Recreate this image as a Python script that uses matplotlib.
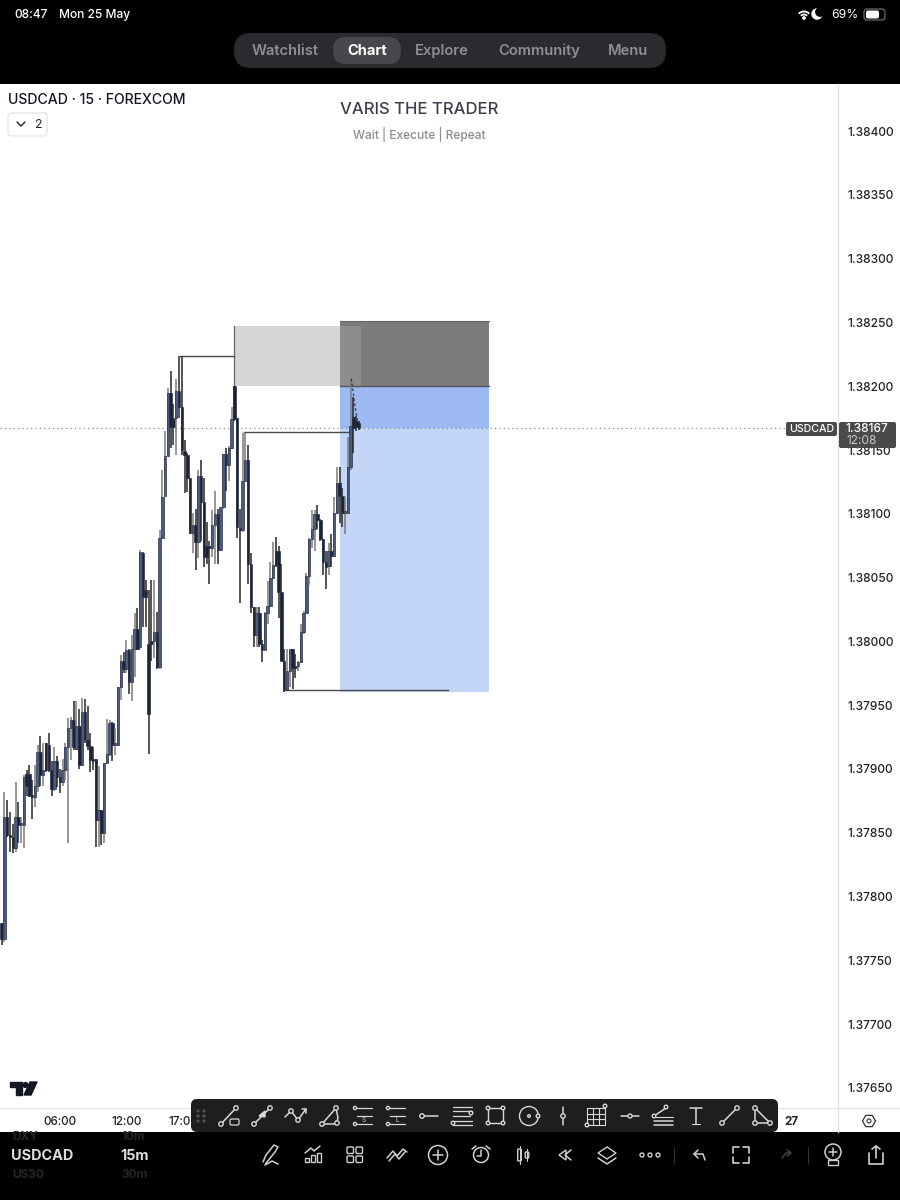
import numpy as np
import matplotlib
matplotlib.use('Agg')
import matplotlib.pyplot as plt
from matplotlib.patches import FancyBboxPatch, Rectangle, Circle, Polygon, Arc

plt.rcParams['font.family'] = ['Inter', 'Roboto', 'DejaVu Sans']

# 15m candles
opens = [1.37779, 1.37767, 1.37862, 1.37848, 1.37847, 1.37838, 1.37862, 1.37856, 1.37856, 1.37896,
         1.37896, 1.37879, 1.37878, 1.37887, 1.37913, 1.37895, 1.37920, 1.37919, 1.37899, 1.37884,
         1.37906, 1.37894, 1.37890, 1.37899, 1.37917, 1.37932, 1.37938, 1.37916, 1.37934, 1.37903,
         1.37945, 1.37923, 1.37918, 1.37908, 1.37908, 1.37860, 1.37868, 1.37850, 1.37905, 1.37912,
         1.37936, 1.37919, 1.37919, 1.37964, 1.37985, 1.37978, 1.37993, 1.37968, 1.37994, 1.38010,
         1.37996, 1.38069, 1.38040, 1.37998, 1.38000, 1.38000, 1.38007, 1.37980, 1.38081, 1.38114,
         1.38145, 1.38195, 1.38175, 1.38175, 1.38196, 1.38184, 1.38149, 1.38146, 1.38128, 1.38085,
         1.38091, 1.38078, 1.38130, 1.38109, 1.38075, 1.38075, 1.38073, 1.38091, 1.38100, 1.38072,
         1.38105, 1.38147, 1.38138, 1.38152, 1.38200, 1.38175, 1.38089, 1.38087, 1.38126, 1.38142,
         1.38061, 1.38027, 1.38005, 1.38022, 1.37998, 1.37993, 1.38022, 1.38028, 1.38050, 1.38071,
         1.38071, 1.38039, 1.37985, 1.37962, 1.37977, 1.37994, 1.37981, 1.37981, 1.37984, 1.38007,
         1.38022, 1.38051, 1.38080, 1.38088, 1.38100, 1.38095, 1.38080, 1.38062, 1.38059, 1.38071,
         1.38067, 1.38101, 1.38124, 1.38114, 1.38101, 1.38101, 1.38137, 1.38176, 1.38173, 1.38171]
highs = [1.37779, 1.37882, 1.37876, 1.37866, 1.37857, 1.37890, 1.37874, 1.37862, 1.37895, 1.37899,
         1.37903, 1.37891, 1.37903, 1.37919, 1.37926, 1.37920, 1.37920, 1.37928, 1.37906, 1.37917,
         1.37910, 1.37900, 1.37908, 1.37920, 1.37940, 1.37941, 1.37953, 1.37953, 1.37947, 1.37956,
         1.37955, 1.37949, 1.37928, 1.37917, 1.37908, 1.37902, 1.37868, 1.37905, 1.37939, 1.37938,
         1.37937, 1.37932, 1.37964, 1.37989, 1.37992, 1.38001, 1.37994, 1.38005, 1.38022, 1.38026,
         1.38072, 1.38070, 1.38048, 1.38040, 1.38048, 1.38048, 1.38023, 1.38087, 1.38134, 1.38165,
         1.38199, 1.38212, 1.38186, 1.38206, 1.38224, 1.38224, 1.38158, 1.38148, 1.38128, 1.38101,
         1.38104, 1.38134, 1.38142, 1.38128, 1.38094, 1.38079, 1.38103, 1.38118, 1.38104, 1.38105,
         1.38147, 1.38152, 1.38153, 1.38184, 1.38200, 1.38175, 1.38104, 1.38163, 1.38163, 1.38154,
         1.38069, 1.38027, 1.38027, 1.38027, 1.38001, 1.38023, 1.38047, 1.38062, 1.38078, 1.38082,
         1.38075, 1.38061, 1.37994, 1.37994, 1.37994, 1.37994, 1.37990, 1.37985, 1.38014, 1.38024,
         1.38054, 1.38081, 1.38103, 1.38103, 1.38107, 1.38096, 1.38080, 1.38071, 1.38077, 1.38084,
         1.38113, 1.38137, 1.38137, 1.38120, 1.38113, 1.38160, 1.38206, 1.38192, 1.38177, 1.38173]
lows = [1.37762, 1.37764, 1.37847, 1.37835, 1.37834, 1.37835, 1.37842, 1.37842, 1.37838, 1.37879,
        1.37878, 1.37861, 1.37870, 1.37882, 1.37887, 1.37887, 1.37898, 1.37898, 1.37879, 1.37883,
        1.37886, 1.37881, 1.37887, 1.37891, 1.37842, 1.37907, 1.37915, 1.37915, 1.37900, 1.37903,
        1.37920, 1.37915, 1.37898, 1.37899, 1.37839, 1.37839, 1.37840, 1.37842, 1.37904, 1.37910,
        1.37906, 1.37911, 1.37919, 1.37954, 1.37975, 1.37975, 1.37959, 1.37953, 1.37972, 1.37993,
        1.37996, 1.38011, 1.38011, 1.37912, 1.37985, 1.37987, 1.37978, 1.37978, 1.38108, 1.38130,
        1.38145, 1.38152, 1.38154, 1.38146, 1.38175, 1.38146, 1.38116, 1.38117, 1.38084, 1.38069,
        1.38056, 1.38065, 1.38079, 1.38058, 1.38061, 1.38045, 1.38066, 1.38061, 1.38061, 1.38071,
        1.38104, 1.38118, 1.38126, 1.38151, 1.38173, 1.38081, 1.38030, 1.38086, 1.38126, 1.38045,
        1.38022, 1.37996, 1.37996, 1.37996, 1.37984, 1.37993, 1.38014, 1.38027, 1.38049, 1.38058,
        1.38018, 1.37985, 1.37960, 1.37962, 1.37964, 1.37963, 1.37971, 1.37977, 1.37983, 1.38006,
        1.38022, 1.38044, 1.38073, 1.38071, 1.38088, 1.38079, 1.38052, 1.38041, 1.38052, 1.38058,
        1.38066, 1.38100, 1.38093, 1.38090, 1.38084, 1.38100, 1.38134, 1.38148, 1.38165, 1.38166]
closes = [1.37767, 1.37862, 1.37848, 1.37847, 1.37838, 1.37862, 1.37856, 1.37856, 1.37894, 1.37887,
          1.37879, 1.37878, 1.37887, 1.37913, 1.37895, 1.37899, 1.37899, 1.37899, 1.37884, 1.37906,
          1.37894, 1.37890, 1.37899, 1.37917, 1.37932, 1.37938, 1.37917, 1.37934, 1.37903, 1.37945,
          1.37923, 1.37918, 1.37907, 1.37906, 1.37860, 1.37868, 1.37850, 1.37905, 1.37912, 1.37936,
          1.37919, 1.37919, 1.37964, 1.37985, 1.37978, 1.37993, 1.37968, 1.37994, 1.38010, 1.37994,
          1.38070, 1.38035, 1.38035, 1.37943, 1.37998, 1.38007, 1.37980, 1.38081, 1.38113, 1.38145,
          1.38195, 1.38168, 1.38168, 1.38196, 1.38184, 1.38150, 1.38146, 1.38128, 1.38085, 1.38091,
          1.38078, 1.38130, 1.38109, 1.38066, 1.38066, 1.38073, 1.38091, 1.38100, 1.38072, 1.38105,
          1.38147, 1.38138, 1.38152, 1.38174, 1.38174, 1.38090, 1.38087, 1.38126, 1.38142, 1.38061,
          1.38027, 1.38005, 1.38022, 1.37998, 1.37993, 1.38022, 1.38028, 1.38050, 1.38060, 1.38060,
          1.38039, 1.37985, 1.37962, 1.37977, 1.37994, 1.37979, 1.37979, 1.37984, 1.38007, 1.38022,
          1.38051, 1.38080, 1.38088, 1.38100, 1.38095, 1.38080, 1.38062, 1.38058, 1.38071, 1.38067,
          1.38101, 1.38124, 1.38114, 1.38101, 1.38101, 1.38137, 1.38169, 1.38167, 1.38168, 1.38167]

price_ticks = [1.38400, 1.38350, 1.38300, 1.38250, 1.38200, 1.38150, 1.38100, 1.38050, 1.38000,
               1.37950, 1.37900, 1.37850, 1.37800, 1.37750, 1.37700, 1.37650]
time_ticks = [21, 45, 65.5, 285]
time_labels = ['06:00', '12:00', '17:00', '27']

last_price = 1.38167
# position tool and zones, [left bar, right bar, top price, bottom price]
supply_zone = [84, 122, 1.38247, 1.38200]
supply_overlap = [122, 129.7]
stop_zone = [122, 176, 1.38251, 1.38200]
risk_zone = [122, 176, 1.38200, 1.38167]
reward_zone = [122, 176, 1.38167, 1.37960]
# swing lines, (left bar, right bar, price)
swing_lines = [(64.5, 84, 1.38224), (87.5, 126.5, 1.38164), (102.5, 161, 1.37962)]
dash_x = [126.2, 127.5, 128.5]
dash_y = [1.38206, 1.38185, 1.38172]

UP_BODY = '#4a5b82'
DOWN_BODY = '#1b2335'
UP_WICK = '#7b7b7b'
DOWN_WICK = '#262626'

fig = plt.figure(figsize=(9, 12), dpi=100, facecolor='black')
ax = fig.add_axes([0, 92 / 1200, 838 / 900, 1024 / 1200])
ax.set_facecolor('white')
ax.set_xlim(-0.61, 301.9)
ax.set_ylim(1.376342, 1.38437)

ax.add_patch(Rectangle((supply_zone[0], supply_zone[3]), supply_zone[1] - supply_zone[0],
                       supply_zone[2] - supply_zone[3], color='#d6d6d6', lw=0, zorder=1))
ax.add_patch(Rectangle((stop_zone[0], stop_zone[3]), stop_zone[1] - stop_zone[0],
                       stop_zone[2] - stop_zone[3], color='#7c7c7c', lw=0, zorder=1))
ax.add_patch(Rectangle((supply_overlap[0], supply_zone[3]), supply_overlap[1] - supply_overlap[0],
                       supply_zone[2] - supply_zone[3], color='#8d8d8d', lw=0, zorder=1.1))
ax.add_patch(Rectangle((risk_zone[0], risk_zone[3]), risk_zone[1] - risk_zone[0],
                       risk_zone[2] - risk_zone[3], color='#9db9f3', lw=0, zorder=1))
ax.add_patch(Rectangle((reward_zone[0], reward_zone[3]), reward_zone[1] - reward_zone[0],
                       reward_zone[2] - reward_zone[3], color='#c4d6f7', lw=0, zorder=1))
ax.plot([stop_zone[0], stop_zone[1]], [stop_zone[3], stop_zone[3]], color='#555555', lw=1, zorder=1.2)
ax.plot([stop_zone[0], stop_zone[1]], [stop_zone[2], stop_zone[2]], color='#666666', lw=0.8, zorder=1.2)
ax.plot([supply_zone[0], supply_zone[0]], [supply_zone[3], supply_zone[2]], color='#666666', lw=0.9, zorder=1.2)

ax.axhline(last_price, color='#8a8a8a', lw=0.9, ls=(0, (1, 2.5)), zorder=2)

for left, right, level in swing_lines:
    ax.plot([left, right], [level, level], color='#4a4a4a', lw=1.0, zorder=2.5)

for i in range(len(opens)):
    up = closes[i] >= opens[i]
    ax.vlines(i, lows[i], highs[i], color=UP_WICK if up else DOWN_WICK, lw=1.1, zorder=3)
    ax.bar(i, max(abs(closes[i] - opens[i]), 0.000015), bottom=min(opens[i], closes[i]), width=0.9,
           color=UP_BODY if up else DOWN_BODY, edgecolor='#2b3246', linewidth=0.5, zorder=3)
ax.plot(dash_x, dash_y, color='#333333', lw=0.9, ls=(0, (2, 2)), zorder=3.5)

for side in ['top', 'left', 'bottom']:
    ax.spines[side].set_visible(False)
ax.spines['right'].set_color('#e2e2e2')
ax.spines['right'].set_linewidth(1)
ax.yaxis.tick_right()
ax.set_yticks(price_ticks)
ax.set_yticklabels([f'{p:.5f}' for p in price_ticks], fontweight='medium')
ax.tick_params(axis='y', length=0, pad=6.5, labelsize=8.6, labelcolor='#222222')
ax.set_xticks(time_ticks)
ax.set_xticklabels(time_labels, fontweight='medium')
ax.tick_params(axis='x', length=0, pad=5.5, labelsize=8.4, labelcolor='#222222')
ax.get_xticklabels()[-1].set_fontweight('bold')

# white strip for the time axis sits under the chart axes
base = fig.add_axes([0, 0, 1, 1], zorder=2)
base.set_xlim(0, 900)
base.set_ylim(1200, 0)
base.axis('off')
base.add_patch(Rectangle((0, 1108), 900, 24, fc='white', ec='none', zorder=0.5))
base.add_patch(Rectangle((838, 84), 62, 1024, fc='white', ec='none', zorder=0.5))
base.plot([0, 900], [1108, 1108], color='#e4e4e4', lw=1, zorder=0.6)
base.plot([838, 838], [1108, 1132], color='#e4e4e4', lw=1, zorder=0.6)
ax.set_zorder(3)

# everything else is app chrome on top, drawn in screen pixels
ui = fig.add_axes([0, 0, 1, 1], zorder=5)
ui.set_xlim(0, 900)
ui.set_ylim(1200, 0)
ui.axis('off')
ui.patch.set_alpha(0)


def pill(x, y, w, h, r, color, ec='none', lw=0, zorder=2):
    ui.add_patch(FancyBboxPatch((x + r, y + r), w - 2 * r, h - 2 * r, boxstyle=f'round,pad={r}',
                                fc=color, ec=ec, lw=lw, zorder=zorder))


def poly(xs, ys, color='#d8d8d8', lw=1.1, zorder=6):
    ui.plot(xs, ys, color=color, lw=lw, zorder=zorder, solid_capstyle='round', solid_joinstyle='round')


def ring(x, y, r=2.2, color='#d8d8d8', lw=1.0, zorder=7, fc='#1e1e20'):
    ui.add_patch(Circle((x, y), r, fc=fc, ec=color, lw=lw, zorder=zorder))


ui.text(14, 15, '08:47', color='white', fontsize=8.6, va='center', ha='left', fontweight='medium')
ui.text(59, 15, 'Mon 25 May', color='white', fontsize=8.6, va='center', ha='left', fontweight='medium')
ui.text(859, 15, '69%', color='white', fontsize=8.8, va='center', ha='right')
pill(864, 9, 21, 11, 3, 'black', ec='#777777', lw=0.8)
pill(866, 10.5, 13, 8, 2, 'white')
# wifi and moon
ui.add_patch(Arc((804, 19), 15, 15, theta1=225, theta2=315, color='white', lw=1.3, zorder=6))
ui.add_patch(Arc((804, 19), 9, 9, theta1=225, theta2=315, color='white', lw=1.3, zorder=6))
ui.add_patch(Circle((804, 18), 1.2, color='white', zorder=6))
ui.add_patch(Circle((817, 14), 5, color='white', zorder=6))
ui.add_patch(Circle((820, 12), 4.2, color='black', zorder=6.1))

pill(234, 33, 432, 35, 17, '#2b2b2f')
pill(333, 37, 68, 27, 13, '#47474c', zorder=3)
nav_labels = ['Watchlist', 'Chart', 'Explore', 'Community', 'Menu']
nav_x = [285, 367, 442, 539, 628]
for name, x in zip(nav_labels, nav_x):
    active = name == 'Chart'
    ui.text(x, 51, name, color='white' if active else '#8f8f93', fontsize=10.6, ha='center', va='center',
            fontweight='bold' if active else 'semibold', zorder=5)

ui.text(8, 100, 'USDCAD · 15 · FOREXCOM', color='#131722', fontsize=10.1, va='center', fontweight='medium')
pill(8, 113, 39, 23, 3, 'white', ec='#e0e0e0', lw=0.8)
poly([17, 21, 25], [122, 126, 122], color='#222222', lw=1)
ui.text(39, 125, '2', color='#222222', fontsize=8.8, ha='center', va='center')
ui.text(419, 110, 'VARIS THE TRADER', color='#3d3f4a', fontsize=12, ha='center', va='center', fontweight='medium')
ui.text(419, 134.5, 'Wait | Execute | Repeat', color='#8b8d95', fontsize=8.6, ha='center', va='center', fontweight='medium')

# last price tags
pill(786, 422, 51, 14, 2, '#4a4a4a', zorder=6)
ui.text(811.5, 429.5, 'USDCAD', color='white', fontsize=7.6, ha='center', va='center', zorder=7, fontweight='medium')
pill(839, 422, 57, 26, 2, '#4a4a4a', zorder=6)
ui.text(867, 429.5, f'{last_price:.5f}', color='white', fontsize=8.6, ha='center', va='center', zorder=7, fontweight='medium')
ui.text(862, 441.5, '12:08', color='#c8c8c8', fontsize=8.6, ha='center', va='center', zorder=7)

# TradingView logo
ui.add_patch(Polygon([(10, 1082), (22, 1082), (22, 1095), (16, 1095), (16, 1087), (10, 1087)], color='#131722', zorder=5))
ui.add_patch(Circle((25.5, 1085), 2.4, color='#131722', zorder=5))
ui.add_patch(Polygon([(30, 1082), (37, 1082), (31, 1095), (24, 1095)], color='#131722', zorder=5))

# settings hexagon on the axis corner
hex_a = np.deg2rad(np.arange(0, 361, 60))
poly(869 + 6.5 * np.cos(hex_a), 1121 + 6.5 * np.sin(hex_a), color='#333333', lw=0.9)
ring(869, 1121, 2, color='#333333', fc='white', lw=0.8)

# drawing toolbar
pill(191, 1099, 587, 33, 6, '#1e1e20', zorder=4)
for dx in [197, 203]:
    for dy in [1111, 1116, 1121]:
        ui.add_patch(Circle((dx + 1, dy), 0.9, color='#555555', zorder=5))

# tool icons, left to right
poly([221, 236], [1124, 1108]); ring(221, 1124); ring(236, 1108); pill(230, 1119, 9, 6, 1.5, '#1e1e20', ec='#d8d8d8', lw=0.9, zorder=7)
poly([254, 270], [1124, 1108]); ring(254, 1124); ring(270, 1108); ui.add_patch(Polygon([(259, 1116), (265, 1111), (265, 1117)], color='#d8d8d8', zorder=7))
poly([285, 291, 298, 306], [1117, 1111, 1120, 1109]); ring(291, 1111); ring(298, 1120); poly([302, 306, 306], [1109, 1109, 1113])
poly([322, 336, 338, 336, 322], [1124, 1108, 1118, 1124, 1124]); ring(322, 1124); ring(336, 1108); ring(337, 1123)
for x0, letter, x1 in [(354, 'S', 372), (387, 'L', 405)]:
    for yy in [1108, 1116, 1124]:
        poly([x0 + 3, x1], [yy, yy], lw=0.9)
    ring(x0 + 1, 1108, 1.6); ring(x0 + 1, 1124, 1.6)
    ui.text((x0 + x1) / 2 + 1, 1120, letter, color='#d8d8d8', fontsize=4.5, ha='center', va='center', zorder=7)
poly([423, 438], [1116, 1116]); ring(422, 1116)
for yy, x1 in [(1107, 472), (1111, 472), (1116, 470), (1121, 472), (1125, 472)]:
    poly([453, x1], [yy, yy], lw=0.9)
ring(471, 1113, 1.8); ring(453, 1123, 1.8)
ui.add_patch(Rectangle((488, 1108), 15, 15, fc='none', ec='#d8d8d8', lw=1, zorder=6))
for cx, cy in [(488, 1108), (503, 1108), (488, 1123), (503, 1123)]:
    ring(cx, cy, 1.8)
ui.add_patch(Circle((529, 1116), 9.5, fc='none', ec='#d8d8d8', lw=1, zorder=6)); ring(529, 1116, 1.3); ring(538, 1116, 1.8)
poly([563, 563], [1107, 1125]); ring(563, 1116)
for k in range(4):
    poly([587 + 6 * k, 587 + 6 * k], [1108, 1125], lw=0.8)
    poly([587, 605], [1108 + 5.6 * k, 1108 + 5.6 * k], lw=0.8)
ring(587, 1125, 1.8); ring(605, 1106, 1.8)
poly([621, 639], [1116, 1116]); ring(630, 1116, 2)
poly([654, 666], [1116, 1108]); ring(654, 1116, 1.8); ring(666, 1107, 1.8)
poly([654, 673], [1121, 1121]); poly([654, 673], [1125, 1125]); poly([654, 673], [1117, 1117], lw=0.8)
poly([690, 702], [1108, 1108]); poly([696, 696], [1108, 1124]); poly([692, 700], [1124, 1124], lw=0.8)
poly([722, 737], [1123, 1108]); ring(722, 1123); ring(737, 1108)
poly([755, 755, 770, 755], [1108, 1123, 1123, 1108]); ring(755, 1108); ring(755, 1123); ring(770, 1123)

# bottom bar
ui.text(12, 1137, 'DXY', color='#262626', fontsize=8.5, va='center', fontweight='bold')
ui.text(121, 1137, '10m', color='#262626', fontsize=8.5, va='center', fontweight='bold')
ui.text(11, 1156, 'USDCAD', color='#dddddd', fontsize=10.4, va='center', fontweight='bold')
ui.text(120, 1156, '15m', color='#dddddd', fontsize=10.4, va='center', fontweight='bold')
ui.text(12, 1175, 'US30', color='#262626', fontsize=8.5, va='center', fontweight='bold')
ui.text(121, 1175, '30m', color='#262626', fontsize=8.5, va='center', fontweight='bold')

BAR = '#d0d0d0'
poly([263, 266, 274, 278, 275, 267, 265, 272, 278], [1162, 1155, 1145, 1147, 1152, 1162, 1165, 1161, 1164], color=BAR)
poly([305, 311, 314, 320], [1153, 1148, 1151, 1146], color=BAR)
for bx, bh in [(305, 4), (311, 7), (317, 9)]:
    ui.add_patch(Rectangle((bx, 1162 - bh), 4, bh, fc='none', ec=BAR, lw=1, zorder=6))
for gx in [347, 356]:
    for gy in [1147, 1156]:
        pill(gx, gy, 6.5, 6.5, 1.2, 'black', ec=BAR, lw=1, zorder=6)
poly([387, 393, 397, 403, 407], [1158, 1151, 1156, 1149, 1152], color=BAR)
poly([389, 395, 399, 405], [1161, 1154, 1159, 1152], color=BAR)
ui.add_patch(Circle((438, 1155), 9.5, fc='none', ec=BAR, lw=1.1, zorder=6))
poly([438, 438], [1150, 1160], color=BAR); poly([433, 443], [1155, 1155], color=BAR)
ui.add_patch(Circle((481, 1155), 7.5, fc='none', ec=BAR, lw=1.1, zorder=6))
poly([481, 481, 477], [1150, 1156, 1156], color=BAR)
poly([472, 476], [1149, 1146], color=BAR); poly([486, 490], [1146, 1149], color=BAR)
for cx, y0, y1 in [(519.5, 1149, 1161), (527, 1152, 1158)]:
    pill(cx - 1.8, y0, 3.6, y1 - y0, 1, 'black', ec=BAR, lw=1, zorder=6)
    poly([cx, cx], [y0 - 3, y1 + 3], color=BAR, lw=0.8)
ui.add_patch(Polygon([(566, 1150), (559, 1155), (566, 1160)], fc='none', ec=BAR, lw=1, zorder=6))
poly([571, 565, 571], [1150, 1155, 1160], color=BAR)
ui.add_patch(Polygon([(607, 1147), (616, 1153), (607, 1159), (598, 1153)], fc='none', ec=BAR, lw=1, zorder=6))
poly([598, 607, 616], [1158, 1164, 1158], color=BAR)
for dotx in [642, 650, 658]:
    ui.add_patch(Circle((dotx, 1155), 2, fc='none', ec=BAR, lw=1, zorder=6))
poly([674, 674], [1147, 1163], color='#333333', lw=0.8)
poly([698, 694, 698], [1150, 1154, 1158], color=BAR)
poly([694, 703, 705], [1154, 1154, 1160], color=BAR)
for px, py, sx, sy in [(733, 1147, 1, 1), (749, 1147, -1, 1), (733, 1163, 1, -1), (749, 1163, -1, -1)]:
    poly([px, px, px + 6 * sx], [py + 6 * sy, py, py], color=BAR, lw=1.2)
poly([782, 786, 790], [1158, 1153, 1153], color='#444444')
poly([787, 791, 787], [1150, 1153, 1156], color='#444444')
poly([808, 808], [1147, 1163], color='#333333', lw=0.8)
ui.add_patch(Circle((833, 1152), 8, fc='none', ec=BAR, lw=1.1, zorder=6))
poly([833, 833], [1148, 1156], color=BAR); poly([829, 837], [1152, 1152], color=BAR)
ui.add_patch(Rectangle((828, 1160), 10, 5, fc='none', ec=BAR, lw=1, zorder=6))
poly([869, 869, 883, 883], [1153, 1164, 1164, 1153], color=BAR, lw=1.2)
poly([876, 876], [1146, 1158], color=BAR, lw=1.2); poly([872, 876, 880], [1149, 1146, 1149], color=BAR, lw=1.2)

fig.savefig('out.png', dpi=100, facecolor='black')
